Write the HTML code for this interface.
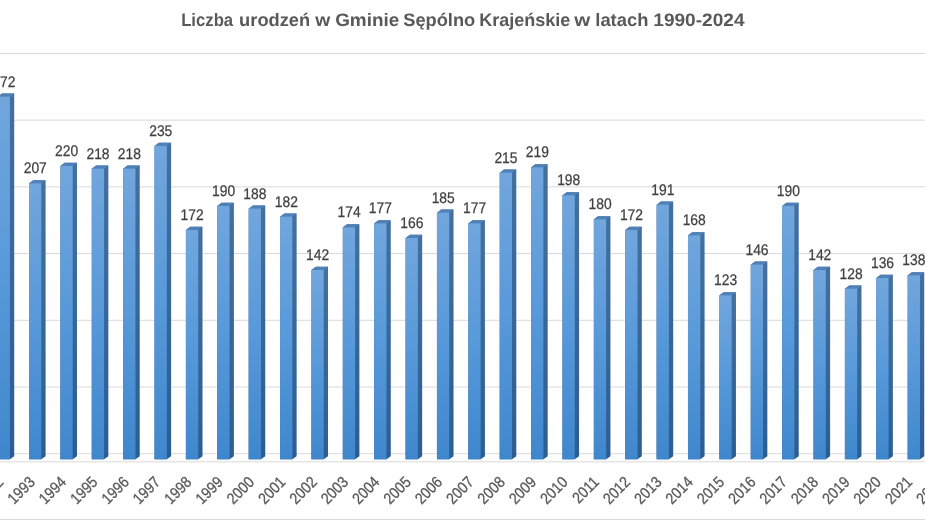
<!DOCTYPE html>
<html lang="pl"><head><meta charset="utf-8"><title>Liczba urodzeń</title>
<style>
html,body{margin:0;padding:0;background:#fff;}
body{width:925px;height:520px;overflow:hidden;font-family:"Liberation Sans",sans-serif;}
svg{display:block;text-rendering:geometricPrecision}
.t{font-family:"Liberation Sans",sans-serif;font-weight:bold;font-size:18px;fill:#595959}
.d{font-family:"Liberation Sans",sans-serif;font-size:15.4px;fill:#404040;stroke:#404040;stroke-width:0.25px;text-anchor:middle}
.y{font-family:"Liberation Sans",sans-serif;font-size:15.8px;fill:#595959;stroke:#595959;stroke-width:0.3px;text-anchor:end}
</style></head><body>
<svg width="925" height="520" viewBox="0 0 925 520">
<defs>
<linearGradient id="f" x1="0" y1="0" x2="0" y2="1"><stop offset="0" stop-color="#71a6dd"/><stop offset="0.5" stop-color="#5799da"/><stop offset="1" stop-color="#3f87cd"/></linearGradient>
<linearGradient id="s" x1="0" y1="0" x2="0" y2="1"><stop offset="0" stop-color="#44709f"/><stop offset="1" stop-color="#2c5d92"/></linearGradient>
<linearGradient id="h" x1="0" y1="0" x2="1" y2="0"><stop offset="0" stop-color="#fff" stop-opacity="0.0"/><stop offset="1" stop-color="#000" stop-opacity="0.0"/></linearGradient>
</defs>
<rect width="925" height="520" fill="#fff"/>

<rect x="0" y="52.90" width="925" height="1" fill="#d9d9d9"/>
<rect x="0" y="119.62" width="925" height="1" fill="#d9d9d9"/>
<rect x="0" y="186.34" width="925" height="1" fill="#d9d9d9"/>
<rect x="0" y="253.06" width="925" height="1" fill="#d9d9d9"/>
<rect x="0" y="319.78" width="925" height="1" fill="#d9d9d9"/>
<rect x="0" y="386.50" width="925" height="1" fill="#d9d9d9"/>
<rect x="0" y="453.22" width="925" height="1" fill="#d9d9d9"/>
<rect x="0" y="461.3" width="925" height="1" fill="#d9d9d9"/>
<rect x="0" y="519" width="925" height="1" fill="#d9d9d9"/>
<text class="t" transform="translate(181.17 25.8) scale(0.9278 1)">Liczba</text>
<text class="t" transform="translate(239.11 25.8) scale(1.0153 1)">urodzeń</text>
<text class="t" transform="translate(315.17 25.8) scale(1.0721 1)">w</text>
<text class="t" transform="translate(335.13 25.8) scale(1.0515 1)">Gminie</text>
<text class="t" transform="translate(403.2 25.8) scale(1.0151 1)">Sępólno</text>
<text class="t" transform="translate(479.26 25.8) scale(1.0006 1)">Krajeńskie</text>
<text class="t" transform="translate(574.31 25.8) scale(1.1436 1)">w</text>
<text class="t" transform="translate(595.3 25.8) scale(1.0206 1)">latach</text>
<text class="t" transform="translate(653.29 25.8) scale(1.0594 1)">1990-2024</text>
<path d="M-2.38 96.64L1.92 93.54L14.22 93.54L14.22 456.20L9.92 459.30L-2.38 459.30Z" fill="url(#s)"/>
<path d="M9.92 96.64L14.22 93.54L14.22 456.20L9.92 459.30Z" fill="url(#h)"/>
<path d="M-2.38 96.94L1.92 93.54L14.22 93.54L9.92 96.94Z" fill="#4f81b8"/>
<rect x="-2.38" y="96.64" width="12.3" height="362.66" fill="url(#f)"/>
<text class="d" transform="translate(3.87 86.74) scale(0.9 1)">272</text>
<text class="y" transform="translate(4.56 483.10) rotate(-45) scale(0.88 1)">1992</text>
<path d="M29.00 183.31L33.30 180.21L45.60 180.21L45.60 456.20L41.30 459.30L29.00 459.30Z" fill="url(#s)"/>
<path d="M41.30 183.31L45.60 180.21L45.60 456.20L41.30 459.30Z" fill="url(#h)"/>
<path d="M29.00 183.61L33.30 180.21L45.60 180.21L41.30 183.61Z" fill="#4f81b8"/>
<rect x="29.00" y="183.31" width="12.3" height="275.99" fill="url(#f)"/>
<text class="d" transform="translate(35.25 173.41) scale(0.9 1)">207</text>
<text class="y" transform="translate(35.89 483.10) rotate(-45) scale(0.88 1)">1993</text>
<path d="M60.38 165.97L64.68 162.87L76.98 162.87L76.98 456.20L72.68 459.30L60.38 459.30Z" fill="url(#s)"/>
<path d="M72.68 165.97L76.98 162.87L76.98 456.20L72.68 459.30Z" fill="url(#h)"/>
<path d="M60.38 166.27L64.68 162.87L76.98 162.87L72.68 166.27Z" fill="#4f81b8"/>
<rect x="60.38" y="165.97" width="12.3" height="293.33" fill="url(#f)"/>
<text class="d" transform="translate(66.63 156.07) scale(0.9 1)">220</text>
<text class="y" transform="translate(67.23 483.10) rotate(-45) scale(0.88 1)">1994</text>
<path d="M91.76 168.64L96.06 165.54L108.36 165.54L108.36 456.20L104.06 459.30L91.76 459.30Z" fill="url(#s)"/>
<path d="M104.06 168.64L108.36 165.54L108.36 456.20L104.06 459.30Z" fill="url(#h)"/>
<path d="M91.76 168.94L96.06 165.54L108.36 165.54L104.06 168.94Z" fill="#4f81b8"/>
<rect x="91.76" y="168.64" width="12.3" height="290.66" fill="url(#f)"/>
<text class="d" transform="translate(98.01 158.74) scale(0.9 1)">218</text>
<text class="y" transform="translate(98.57 483.10) rotate(-45) scale(0.88 1)">1995</text>
<path d="M123.14 168.64L127.44 165.54L139.74 165.54L139.74 456.20L135.44 459.30L123.14 459.30Z" fill="url(#s)"/>
<path d="M135.44 168.64L139.74 165.54L139.74 456.20L135.44 459.30Z" fill="url(#h)"/>
<path d="M123.14 168.94L127.44 165.54L139.74 165.54L135.44 168.94Z" fill="#4f81b8"/>
<rect x="123.14" y="168.64" width="12.3" height="290.66" fill="url(#f)"/>
<text class="d" transform="translate(129.39 158.74) scale(0.9 1)">218</text>
<text class="y" transform="translate(129.90 483.10) rotate(-45) scale(0.88 1)">1996</text>
<path d="M154.52 145.97L158.82 142.87L171.12 142.87L171.12 456.20L166.82 459.30L154.52 459.30Z" fill="url(#s)"/>
<path d="M166.82 145.97L171.12 142.87L171.12 456.20L166.82 459.30Z" fill="url(#h)"/>
<path d="M154.52 146.27L158.82 142.87L171.12 142.87L166.82 146.27Z" fill="#4f81b8"/>
<rect x="154.52" y="145.97" width="12.3" height="313.33" fill="url(#f)"/>
<text class="d" transform="translate(160.77 136.07) scale(0.9 1)">235</text>
<text class="y" transform="translate(161.24 483.10) rotate(-45) scale(0.88 1)">1997</text>
<path d="M185.90 229.97L190.20 226.87L202.50 226.87L202.50 456.20L198.20 459.30L185.90 459.30Z" fill="url(#s)"/>
<path d="M198.20 229.97L202.50 226.87L202.50 456.20L198.20 459.30Z" fill="url(#h)"/>
<path d="M185.90 230.27L190.20 226.87L202.50 226.87L198.20 230.27Z" fill="#4f81b8"/>
<rect x="185.90" y="229.97" width="12.3" height="229.33" fill="url(#f)"/>
<text class="d" transform="translate(192.15 220.07) scale(0.9 1)">172</text>
<text class="y" transform="translate(192.58 483.10) rotate(-45) scale(0.88 1)">1998</text>
<path d="M217.28 205.97L221.58 202.87L233.88 202.87L233.88 456.20L229.58 459.30L217.28 459.30Z" fill="url(#s)"/>
<path d="M229.58 205.97L233.88 202.87L233.88 456.20L229.58 459.30Z" fill="url(#h)"/>
<path d="M217.28 206.27L221.58 202.87L233.88 202.87L229.58 206.27Z" fill="#4f81b8"/>
<rect x="217.28" y="205.97" width="12.3" height="253.33" fill="url(#f)"/>
<text class="d" transform="translate(223.53 196.07) scale(0.9 1)">190</text>
<text class="y" transform="translate(223.92 483.10) rotate(-45) scale(0.88 1)">1999</text>
<path d="M248.66 208.64L252.96 205.54L265.26 205.54L265.26 456.20L260.96 459.30L248.66 459.30Z" fill="url(#s)"/>
<path d="M260.96 208.64L265.26 205.54L265.26 456.20L260.96 459.30Z" fill="url(#h)"/>
<path d="M248.66 208.94L252.96 205.54L265.26 205.54L260.96 208.94Z" fill="#4f81b8"/>
<rect x="248.66" y="208.64" width="12.3" height="250.66" fill="url(#f)"/>
<text class="d" transform="translate(254.91 198.74) scale(0.9 1)">188</text>
<text class="y" transform="translate(255.25 483.10) rotate(-45) scale(0.88 1)">2000</text>
<path d="M280.04 216.64L284.34 213.54L296.64 213.54L296.64 456.20L292.34 459.30L280.04 459.30Z" fill="url(#s)"/>
<path d="M292.34 216.64L296.64 213.54L296.64 456.20L292.34 459.30Z" fill="url(#h)"/>
<path d="M280.04 216.94L284.34 213.54L296.64 213.54L292.34 216.94Z" fill="#4f81b8"/>
<rect x="280.04" y="216.64" width="12.3" height="242.66" fill="url(#f)"/>
<text class="d" transform="translate(286.29 206.74) scale(0.9 1)">182</text>
<text class="y" transform="translate(286.59 483.10) rotate(-45) scale(0.88 1)">2001</text>
<path d="M311.42 269.97L315.72 266.87L328.02 266.87L328.02 456.20L323.72 459.30L311.42 459.30Z" fill="url(#s)"/>
<path d="M323.72 269.97L328.02 266.87L328.02 456.20L323.72 459.30Z" fill="url(#h)"/>
<path d="M311.42 270.27L315.72 266.87L328.02 266.87L323.72 270.27Z" fill="#4f81b8"/>
<rect x="311.42" y="269.97" width="12.3" height="189.33" fill="url(#f)"/>
<text class="d" transform="translate(317.67 260.07) scale(0.9 1)">142</text>
<text class="y" transform="translate(317.93 483.10) rotate(-45) scale(0.88 1)">2002</text>
<path d="M342.80 227.31L347.10 224.21L359.40 224.21L359.40 456.20L355.10 459.30L342.80 459.30Z" fill="url(#s)"/>
<path d="M355.10 227.31L359.40 224.21L359.40 456.20L355.10 459.30Z" fill="url(#h)"/>
<path d="M342.80 227.61L347.10 224.21L359.40 224.21L355.10 227.61Z" fill="#4f81b8"/>
<rect x="342.80" y="227.31" width="12.3" height="231.99" fill="url(#f)"/>
<text class="d" transform="translate(349.05 217.41) scale(0.9 1)">174</text>
<text class="y" transform="translate(349.26 483.10) rotate(-45) scale(0.88 1)">2003</text>
<path d="M374.18 223.31L378.48 220.21L390.78 220.21L390.78 456.20L386.48 459.30L374.18 459.30Z" fill="url(#s)"/>
<path d="M386.48 223.31L390.78 220.21L390.78 456.20L386.48 459.30Z" fill="url(#h)"/>
<path d="M374.18 223.61L378.48 220.21L390.78 220.21L386.48 223.61Z" fill="#4f81b8"/>
<rect x="374.18" y="223.31" width="12.3" height="235.99" fill="url(#f)"/>
<text class="d" transform="translate(380.43 213.41) scale(0.9 1)">177</text>
<text class="y" transform="translate(380.60 483.10) rotate(-45) scale(0.88 1)">2004</text>
<path d="M405.56 237.97L409.86 234.87L422.16 234.87L422.16 456.20L417.86 459.30L405.56 459.30Z" fill="url(#s)"/>
<path d="M417.86 237.97L422.16 234.87L422.16 456.20L417.86 459.30Z" fill="url(#h)"/>
<path d="M405.56 238.27L409.86 234.87L422.16 234.87L417.86 238.27Z" fill="#4f81b8"/>
<rect x="405.56" y="237.97" width="12.3" height="221.33" fill="url(#f)"/>
<text class="d" transform="translate(411.81 228.07) scale(0.9 1)">166</text>
<text class="y" transform="translate(411.94 483.10) rotate(-45) scale(0.88 1)">2005</text>
<path d="M436.94 212.64L441.24 209.54L453.54 209.54L453.54 456.20L449.24 459.30L436.94 459.30Z" fill="url(#s)"/>
<path d="M449.24 212.64L453.54 209.54L453.54 456.20L449.24 459.30Z" fill="url(#h)"/>
<path d="M436.94 212.94L441.24 209.54L453.54 209.54L449.24 212.94Z" fill="#4f81b8"/>
<rect x="436.94" y="212.64" width="12.3" height="246.66" fill="url(#f)"/>
<text class="d" transform="translate(443.19 202.74) scale(0.9 1)">185</text>
<text class="y" transform="translate(443.27 483.10) rotate(-45) scale(0.88 1)">2006</text>
<path d="M468.32 223.31L472.62 220.21L484.92 220.21L484.92 456.20L480.62 459.30L468.32 459.30Z" fill="url(#s)"/>
<path d="M480.62 223.31L484.92 220.21L484.92 456.20L480.62 459.30Z" fill="url(#h)"/>
<path d="M468.32 223.61L472.62 220.21L484.92 220.21L480.62 223.61Z" fill="#4f81b8"/>
<rect x="468.32" y="223.31" width="12.3" height="235.99" fill="url(#f)"/>
<text class="d" transform="translate(474.57 213.41) scale(0.9 1)">177</text>
<text class="y" transform="translate(474.61 483.10) rotate(-45) scale(0.88 1)">2007</text>
<path d="M499.70 172.64L504.00 169.54L516.30 169.54L516.30 456.20L512.00 459.30L499.70 459.30Z" fill="url(#s)"/>
<path d="M512.00 172.64L516.30 169.54L516.30 456.20L512.00 459.30Z" fill="url(#h)"/>
<path d="M499.70 172.94L504.00 169.54L516.30 169.54L512.00 172.94Z" fill="#4f81b8"/>
<rect x="499.70" y="172.64" width="12.3" height="286.66" fill="url(#f)"/>
<text class="d" transform="translate(505.95 162.74) scale(0.9 1)">215</text>
<text class="y" transform="translate(505.95 483.10) rotate(-45) scale(0.88 1)">2008</text>
<path d="M531.08 167.31L535.38 164.21L547.68 164.21L547.68 456.20L543.38 459.30L531.08 459.30Z" fill="url(#s)"/>
<path d="M543.38 167.31L547.68 164.21L547.68 456.20L543.38 459.30Z" fill="url(#h)"/>
<path d="M531.08 167.61L535.38 164.21L547.68 164.21L543.38 167.61Z" fill="#4f81b8"/>
<rect x="531.08" y="167.31" width="12.3" height="291.99" fill="url(#f)"/>
<text class="d" transform="translate(537.33 157.41) scale(0.9 1)">219</text>
<text class="y" transform="translate(537.28 483.10) rotate(-45) scale(0.88 1)">2009</text>
<path d="M562.46 195.31L566.76 192.21L579.06 192.21L579.06 456.20L574.76 459.30L562.46 459.30Z" fill="url(#s)"/>
<path d="M574.76 195.31L579.06 192.21L579.06 456.20L574.76 459.30Z" fill="url(#h)"/>
<path d="M562.46 195.61L566.76 192.21L579.06 192.21L574.76 195.61Z" fill="#4f81b8"/>
<rect x="562.46" y="195.31" width="12.3" height="263.99" fill="url(#f)"/>
<text class="d" transform="translate(568.71 185.41) scale(0.9 1)">198</text>
<text class="y" transform="translate(568.62 483.10) rotate(-45) scale(0.88 1)">2010</text>
<path d="M593.84 219.31L598.14 216.21L610.44 216.21L610.44 456.20L606.14 459.30L593.84 459.30Z" fill="url(#s)"/>
<path d="M606.14 219.31L610.44 216.21L610.44 456.20L606.14 459.30Z" fill="url(#h)"/>
<path d="M593.84 219.61L598.14 216.21L610.44 216.21L606.14 219.61Z" fill="#4f81b8"/>
<rect x="593.84" y="219.31" width="12.3" height="239.99" fill="url(#f)"/>
<text class="d" transform="translate(600.09 209.41) scale(0.9 1)">180</text>
<text class="y" transform="translate(599.96 483.10) rotate(-45) scale(0.88 1)">2011</text>
<path d="M625.22 229.97L629.52 226.87L641.82 226.87L641.82 456.20L637.52 459.30L625.22 459.30Z" fill="url(#s)"/>
<path d="M637.52 229.97L641.82 226.87L641.82 456.20L637.52 459.30Z" fill="url(#h)"/>
<path d="M625.22 230.27L629.52 226.87L641.82 226.87L637.52 230.27Z" fill="#4f81b8"/>
<rect x="625.22" y="229.97" width="12.3" height="229.33" fill="url(#f)"/>
<text class="d" transform="translate(631.47 220.07) scale(0.9 1)">172</text>
<text class="y" transform="translate(631.30 483.10) rotate(-45) scale(0.88 1)">2012</text>
<path d="M656.60 204.64L660.90 201.54L673.20 201.54L673.20 456.20L668.90 459.30L656.60 459.30Z" fill="url(#s)"/>
<path d="M668.90 204.64L673.20 201.54L673.20 456.20L668.90 459.30Z" fill="url(#h)"/>
<path d="M656.60 204.94L660.90 201.54L673.20 201.54L668.90 204.94Z" fill="#4f81b8"/>
<rect x="656.60" y="204.64" width="12.3" height="254.66" fill="url(#f)"/>
<text class="d" transform="translate(662.85 194.74) scale(0.9 1)">191</text>
<text class="y" transform="translate(662.63 483.10) rotate(-45) scale(0.88 1)">2013</text>
<path d="M687.98 235.31L692.28 232.21L704.58 232.21L704.58 456.20L700.28 459.30L687.98 459.30Z" fill="url(#s)"/>
<path d="M700.28 235.31L704.58 232.21L704.58 456.20L700.28 459.30Z" fill="url(#h)"/>
<path d="M687.98 235.61L692.28 232.21L704.58 232.21L700.28 235.61Z" fill="#4f81b8"/>
<rect x="687.98" y="235.31" width="12.3" height="223.99" fill="url(#f)"/>
<text class="d" transform="translate(694.23 225.41) scale(0.9 1)">168</text>
<text class="y" transform="translate(693.97 483.10) rotate(-45) scale(0.88 1)">2014</text>
<path d="M719.36 295.30L723.66 292.20L735.96 292.20L735.96 456.20L731.66 459.30L719.36 459.30Z" fill="url(#s)"/>
<path d="M731.66 295.30L735.96 292.20L735.96 456.20L731.66 459.30Z" fill="url(#h)"/>
<path d="M719.36 295.60L723.66 292.20L735.96 292.20L731.66 295.60Z" fill="#4f81b8"/>
<rect x="719.36" y="295.30" width="12.3" height="164.00" fill="url(#f)"/>
<text class="d" transform="translate(725.61 285.40) scale(0.9 1)">123</text>
<text class="y" transform="translate(725.31 483.10) rotate(-45) scale(0.88 1)">2015</text>
<path d="M750.74 264.64L755.04 261.54L767.34 261.54L767.34 456.20L763.04 459.30L750.74 459.30Z" fill="url(#s)"/>
<path d="M763.04 264.64L767.34 261.54L767.34 456.20L763.04 459.30Z" fill="url(#h)"/>
<path d="M750.74 264.94L755.04 261.54L767.34 261.54L763.04 264.94Z" fill="#4f81b8"/>
<rect x="750.74" y="264.64" width="12.3" height="194.66" fill="url(#f)"/>
<text class="d" transform="translate(756.99 254.74) scale(0.9 1)">146</text>
<text class="y" transform="translate(756.64 483.10) rotate(-45) scale(0.88 1)">2016</text>
<path d="M782.12 205.97L786.42 202.87L798.72 202.87L798.72 456.20L794.42 459.30L782.12 459.30Z" fill="url(#s)"/>
<path d="M794.42 205.97L798.72 202.87L798.72 456.20L794.42 459.30Z" fill="url(#h)"/>
<path d="M782.12 206.27L786.42 202.87L798.72 202.87L794.42 206.27Z" fill="#4f81b8"/>
<rect x="782.12" y="205.97" width="12.3" height="253.33" fill="url(#f)"/>
<text class="d" transform="translate(788.37 196.07) scale(0.9 1)">190</text>
<text class="y" transform="translate(787.98 483.10) rotate(-45) scale(0.88 1)">2017</text>
<path d="M813.50 269.97L817.80 266.87L830.10 266.87L830.10 456.20L825.80 459.30L813.50 459.30Z" fill="url(#s)"/>
<path d="M825.80 269.97L830.10 266.87L830.10 456.20L825.80 459.30Z" fill="url(#h)"/>
<path d="M813.50 270.27L817.80 266.87L830.10 266.87L825.80 270.27Z" fill="#4f81b8"/>
<rect x="813.50" y="269.97" width="12.3" height="189.33" fill="url(#f)"/>
<text class="d" transform="translate(819.75 260.07) scale(0.9 1)">142</text>
<text class="y" transform="translate(819.32 483.10) rotate(-45) scale(0.88 1)">2018</text>
<path d="M844.88 288.64L849.18 285.54L861.48 285.54L861.48 456.20L857.18 459.30L844.88 459.30Z" fill="url(#s)"/>
<path d="M857.18 288.64L861.48 285.54L861.48 456.20L857.18 459.30Z" fill="url(#h)"/>
<path d="M844.88 288.94L849.18 285.54L861.48 285.54L857.18 288.94Z" fill="#4f81b8"/>
<rect x="844.88" y="288.64" width="12.3" height="170.66" fill="url(#f)"/>
<text class="d" transform="translate(851.13 278.74) scale(0.9 1)">128</text>
<text class="y" transform="translate(850.65 483.10) rotate(-45) scale(0.88 1)">2019</text>
<path d="M876.26 277.97L880.56 274.87L892.86 274.87L892.86 456.20L888.56 459.30L876.26 459.30Z" fill="url(#s)"/>
<path d="M888.56 277.97L892.86 274.87L892.86 456.20L888.56 459.30Z" fill="url(#h)"/>
<path d="M876.26 278.27L880.56 274.87L892.86 274.87L888.56 278.27Z" fill="#4f81b8"/>
<rect x="876.26" y="277.97" width="12.3" height="181.33" fill="url(#f)"/>
<text class="d" transform="translate(882.51 268.07) scale(0.9 1)">136</text>
<text class="y" transform="translate(881.99 483.10) rotate(-45) scale(0.88 1)">2020</text>
<path d="M907.64 275.30L911.94 272.20L924.24 272.20L924.24 456.20L919.94 459.30L907.64 459.30Z" fill="url(#s)"/>
<path d="M919.94 275.30L924.24 272.20L924.24 456.20L919.94 459.30Z" fill="url(#h)"/>
<path d="M907.64 275.60L911.94 272.20L924.24 272.20L919.94 275.60Z" fill="#4f81b8"/>
<rect x="907.64" y="275.30" width="12.3" height="184.00" fill="url(#f)"/>
<text class="d" transform="translate(913.89 265.40) scale(0.9 1)">138</text>
<text class="y" transform="translate(913.33 483.10) rotate(-45) scale(0.88 1)">2021</text>
<path d="M939.02 272.64L943.32 269.54L955.62 269.54L955.62 456.20L951.32 459.30L939.02 459.30Z" fill="url(#s)"/>
<path d="M951.32 272.64L955.62 269.54L955.62 456.20L951.32 459.30Z" fill="url(#h)"/>
<path d="M939.02 272.94L943.32 269.54L955.62 269.54L951.32 272.94Z" fill="#4f81b8"/>
<rect x="939.02" y="272.64" width="12.3" height="186.66" fill="url(#f)"/>
<text class="d" transform="translate(945.27 262.74) scale(0.9 1)">140</text>
<text class="y" transform="translate(944.67 483.10) rotate(-45) scale(0.88 1)">2022</text>
</svg></body></html>
